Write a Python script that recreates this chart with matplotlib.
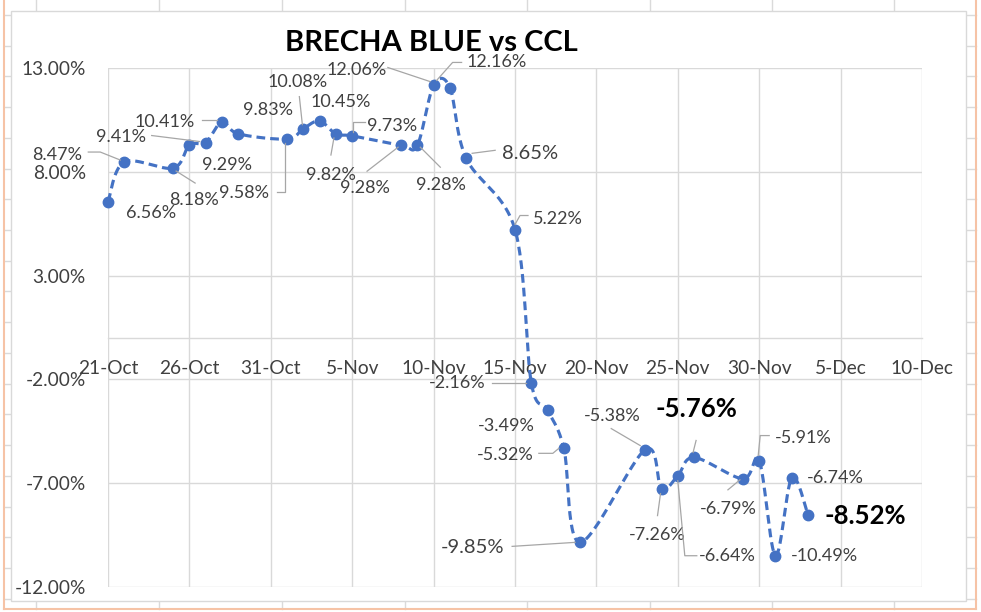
import matplotlib
matplotlib.use("Agg")
import matplotlib.pyplot as plt
import matplotlib.dates as mdates
from matplotlib.lines import Line2D
from matplotlib.patches import Rectangle
from matplotlib.transforms import IdentityTransform
import numpy as np
import pandas as pd

plt.rcParams['font.family'] = ['Lato', 'DejaVu Sans']

# datos: brecha dolar blue vs CCL
fechas = ['2021-10-21', '2021-10-22', '2021-10-25', '2021-10-26', '2021-10-27',
          '2021-10-28', '2021-10-29', '2021-11-01', '2021-11-02', '2021-11-03',
          '2021-11-04', '2021-11-05', '2021-11-08', '2021-11-09', '2021-11-10',
          '2021-11-11', '2021-11-12', '2021-11-15', '2021-11-16', '2021-11-17',
          '2021-11-18', '2021-11-19', '2021-11-23', '2021-11-24', '2021-11-25',
          '2021-11-26', '2021-11-29', '2021-11-30', '2021-12-01', '2021-12-02',
          '2021-12-03']
brecha = [6.56, 8.47, 8.18, 9.29, 9.41, 10.41, 9.83, 9.58, 10.08, 10.45,
          9.82, 9.73, 9.28, 9.28, 12.16, 12.06, 8.65, 5.22, -2.16, -3.49,
          -5.32, -9.85, -5.38, -7.26, -6.64, -5.76, -6.79, -5.91, -10.49, -6.74,
          -8.52]
ticks_y = [-12, -7, -2, 3, 8, 13]
ticks_x = ['2021-10-21', '2021-10-26', '2021-10-31', '2021-11-05', '2021-11-10',
           '2021-11-15', '2021-11-20', '2021-11-25', '2021-11-30', '2021-12-05',
           '2021-12-10']
etiquetas_x = ['21-Oct', '26-Oct', '31-Oct', '5-Nov', '10-Nov', '15-Nov',
               '20-Nov', '25-Nov', '30-Nov', '5-Dec', '10-Dec']

# posicion de cada etiqueta (px respecto al punto, y hacia abajo), estilo y guia
etiquetas = [
    ((43, 11), 'n', None),
    ((-67, -7), 'n', [(-36, -10), (-24, -10), (-4, -2)]),
    ((21, 32), 'n', [(3, 3), (22, 15)]),
    ((38, 20), 'n', None),
    ((-85, -6), 'n', [(-54, -7), (-6, -1)]),
    ((-57, 0), 'n', [(-20, -2), (-5, -2)]),
    ((30, -24), 'n', None),
    ((-43, 54), 'n', [(-10, 53), (-2, 53), (-2, 4)]),
    ((-6, -47), 'n', [(-4, -32), (-1, -4)]),
    ((21, -19), 'n', None),
    ((-5, 41), 'n', [(-5, 21), (-2, 4)]),
    ((40, -10), 'n', [(13, -14), (1, -14), (1, -4)]),
    ((-36, 43), 'n', [(-34, 26), (-3, 2)]),
    ((24, 40), 'n', [(23, 22), (3, 2)]),
    ((63, -23), 'n', [(28, -23), (19, -23), (3, -5)]),
    ((-93, -18), 'n', [(-62, -20), (-20, -6)]),
    ((64, -5), 'g', [(29, -8), (6, -5)]),
    ((43, -11), 'n', [(13, -14), (5, -14), (0, -5)]),
    ((-74, 0), 'n', [(-39, 0), (-5, 0)]),
    ((-41, 16), 'n', None),
    ((-59, 7), 'n', [(-25, 5), (-11, 5), (-5, 0)]),
    ((-108, 5), 'g', [(-68, 4), (-5, 0)]),
    ((-33, -34), 'n', [(-34, -21), (-5, -4)]),
    ((-4, 46), 'n', [(-4, 27), (-1, 5)]),
    ((50, 80), 'n', [(0, 5), (7, 80), (19, 80)]),
    ((2, -48), 'b', [(2, -17), (-1, -5)]),
    ((-15, 30), 'n', [(-15, 11), (-3, 1)]),
    ((44, -23), 'n', [(10, -25), (1, -25), (-1, -5)]),
    ((49, 0), 'n', None),
    ((44, 0), 'n', None),
    ((57, 1), 'b', None),
]

W, H = 981, 612
fig = plt.figure(figsize=(W / 100, H / 100), dpi=100)


def fx(x):
    return x / W


def fy(y):
    return 1 - y / H


# fondo de planilla
naranja = '#F6C3A6'
gris_celda = '#DADADA'
for x in [36, 159, 282, 405, 527, 650, 772, 894]:
    fig.add_artist(Line2D([fx(x), fx(x)], [fy(0), fy(11)], color=gris_celda, lw=1, zorder=-3))
    fig.add_artist(Line2D([fx(x), fx(x)], [fy(601), fy(609)], color=gris_celda, lw=1, zorder=-3))
for y in np.arange(15, 601, 30.72):
    fig.add_artist(Line2D([fx(4), fx(11)], [fy(y), fy(y)], color=gris_celda, lw=1, zorder=-3))
    fig.add_artist(Line2D([fx(966), fx(976)], [fy(y), fy(y)], color=gris_celda, lw=1, zorder=-3))
fig.add_artist(Rectangle((fx(11), fy(601)), fx(966) - fx(11), fy(11) - fy(601),
                         facecolor='white', edgecolor='#D9D9D9', lw=1, zorder=-2))
fig.add_artist(Line2D([fx(4), fx(4)], [fy(0), fy(609)], color=naranja, lw=1.5, zorder=-1))
fig.add_artist(Line2D([fx(976), fx(976)], [fy(0), fy(609)], color=naranja, lw=1.5, zorder=-1))
fig.add_artist(Line2D([fx(4), fx(976)], [fy(609), fy(609)], color=naranja, lw=1.5, zorder=-1))

ax = fig.add_axes([fx(108), fy(587), fx(922) - fx(108), fy(68) - fy(587)])
ax.patch.set_alpha(0)

x = mdates.date2num(pd.to_datetime(fechas))
y = np.array(brecha)
x0 = mdates.date2num(pd.Timestamp(ticks_x[0]))
x1 = mdates.date2num(pd.Timestamp(ticks_x[-1]))
ax.set_xlim(x0, x1)
ax.set_ylim(ticks_y[0], ticks_y[-1])

# curva suavizada (catmull-rom en escala de pantalla)
sx = 814 / (x1 - x0)
sy = 519 / (ticks_y[-1] - ticks_y[0])
P = np.column_stack([x * sx, y * sy])
curva = []
for i in range(len(P) - 1):
    p0 = P[i - 1] if i > 0 else P[i]
    p1 = P[i]
    p2 = P[i + 1]
    p3 = P[i + 2] if i + 2 < len(P) else P[i + 1]
    c1 = p1 + (p2 - p0) / 6
    c2 = p2 - (p3 - p1) / 6
    t = np.linspace(0, 1, 30)[:, None]
    seg = (1 - t) ** 3 * p1 + 3 * (1 - t) ** 2 * t * c1 + 3 * (1 - t) * t ** 2 * c2 + t ** 3 * p2
    curva.append(seg if i == 0 else seg[1:])
curva = np.vstack(curva)

azul = '#4472C4'
ax.plot(curva[:, 0] / sx, curva[:, 1] / sy, color=azul, lw=2.25,
        dashes=(2.8, 1.6), zorder=3, clip_on=False)
ax.plot(x, y, 'o', color=azul, ms=7.5, zorder=4, clip_on=False)

ax.set_yticks(ticks_y)
ax.set_yticklabels([f'{v:.2f}%' for v in ticks_y])
ax.set_xticks(mdates.date2num(pd.to_datetime(ticks_x)))
ax.set_xticklabels(etiquetas_x)
ax.grid(color='#D9D9D9', lw=1)
ax.set_axisbelow(True)
for s in ['left', 'right', 'top']:
    ax.spines[s].set_visible(False)
ax.spines['bottom'].set_position(('data', 0))
ax.spines['bottom'].set_color('#D9D9D9')
ax.spines['bottom'].set_linewidth(1)
ax.tick_params(axis='x', length=0, pad=16, labelsize=13.8, labelcolor='#404040')
ax.tick_params(axis='y', length=0, pad=16, labelsize=13.8, labelcolor='#404040')

# etiquetas de datos
estilos = {'n': dict(fontsize=13, color='#404040'),
           'g': dict(fontsize=14.5, color='#404040'),
           'b': dict(fontsize=18.5, color='#000000', fontweight='bold')}
for xi, yi, v, (off, est, guia) in zip(x, y, brecha, etiquetas):
    ax.annotate(f'{v:.2f}%', xy=(xi, yi), xytext=(off[0], -off[1]),
                textcoords='offset pixels', ha='center', va='center',
                annotation_clip=False, **estilos[est])
    if guia:
        px, py = ax.transData.transform((xi, yi))
        fig.add_artist(Line2D([px + g[0] for g in guia], [py - g[1] for g in guia],
                              color='#A6A6A6', lw=0.9, transform=IdentityTransform()))

fig.text(fx(431), fy(43), 'BRECHA BLUE vs CCL', ha='center', va='center',
         fontsize=21, fontweight='bold', color='#000000')

plt.savefig('out.png', dpi=100)
